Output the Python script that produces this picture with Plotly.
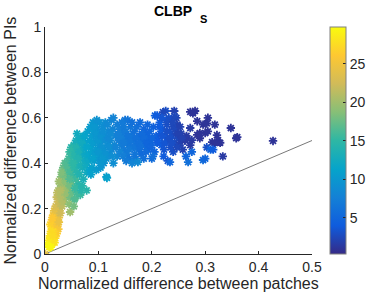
import plotly.graph_objects as go

# (x, y, colour value), grouped by region of the cloud
pts_yellow = [
    (0.0, 0.0, 24), (0.008, 0.03, 29), (0.010, 0.05, 29), (0.007, 0.06, 28.5), (0.012, 0.04, 29),
    (0.009, 0.08, 28), (0.013, 0.07, 28), (0.011, 0.10, 27.5), (0.015, 0.09, 27), (0.014, 0.12, 27),
    (0.017, 0.11, 26.5), (0.010, 0.13, 27), (0.016, 0.14, 26), (0.019, 0.13, 26), (0.018, 0.16, 25),
    (0.021, 0.15, 25), (0.015, 0.17, 25.5), (0.020, 0.18, 24.5), (0.023, 0.17, 24), (0.012, 0.06, 28.5),
    (0.016, 0.06, 28), (0.018, 0.08, 27), (0.020, 0.10, 26.5), (0.022, 0.12, 25.5), (0.024, 0.14, 25),
    (0.025, 0.11, 25.5), (0.013, 0.15, 26), (0.011, 0.08, 28), (0.008, 0.045, 29.5), (0.014, 0.05, 28.5),
    (0.019, 0.07, 27.5), (0.022, 0.09, 26.5), (0.026, 0.16, 24.5), (0.017, 0.19, 24.5), (0.024, 0.20, 23.5),
    (0.027, 0.19, 23.5), (0.009, 0.035, 29.5), (0.012, 0.09, 28), (0.016, 0.10, 27), (0.020, 0.14, 25.5),
    (0.006, 0.04, 29.5), (0.010, 0.07, 28.5), (0.013, 0.11, 27.5), (0.017, 0.13, 26.5), (0.021, 0.17, 24.5),
    (0.019, 0.20, 24), (0.025, 0.18, 24), (0.028, 0.21, 23), (0.015, 0.08, 27.5), (0.023, 0.13, 25.5),
    (0.018, 0.05, 28), (0.011, 0.03, 29.5), (0.026, 0.14, 24.5), (0.014, 0.16, 26),
]
pts_green = [
    (0.020, 0.21, 23), (0.024, 0.23, 22.5), (0.028, 0.22, 22), (0.022, 0.25, 22), (0.027, 0.26, 21),
    (0.031, 0.24, 21), (0.025, 0.28, 20.5), (0.030, 0.29, 20), (0.034, 0.27, 20), (0.028, 0.31, 19.5),
    (0.033, 0.32, 19), (0.037, 0.30, 19), (0.030, 0.34, 18.5), (0.036, 0.35, 18), (0.040, 0.33, 18),
    (0.038, 0.37, 17.5), (0.042, 0.36, 17), (0.032, 0.21, 21.5), (0.035, 0.23, 21), (0.040, 0.25, 20),
    (0.029, 0.18, 22.5), (0.044, 0.28, 18.5), (0.047, 0.25, 18), (0.050, 0.31, 17), (0.041, 0.30, 18.5),
    (0.023, 0.27, 21.5), (0.026, 0.32, 20), (0.034, 0.38, 17.5), (0.055, 0.24, 17), (0.045, 0.22, 19),
    (0.047, 0.185, 20), (0.066, 0.26, 15.5), (0.078, 0.28, 14.5), (0.056, 0.245, 16.5),
    (0.030, 0.26, 21), (0.033, 0.29, 20), (0.036, 0.27, 20), (0.039, 0.32, 19), (0.043, 0.34, 18),
    (0.046, 0.30, 18), (0.041, 0.27, 19.5), (0.048, 0.35, 17.5), (0.052, 0.37, 16.5), (0.037, 0.40, 17),
    (0.044, 0.39, 17), (0.031, 0.36, 18.5), (0.029, 0.28, 21), (0.051, 0.27, 17.5), (0.058, 0.33, 16),
    (0.060, 0.27, 16), (0.062, 0.31, 15.5), (0.054, 0.21, 18), (0.070, 0.30, 14.5),
]
pts_teal = [
    (0.040, 0.40, 16.5), (0.044, 0.42, 16), (0.048, 0.44, 15.5), (0.043, 0.38, 16.5), (0.050, 0.40, 15.5),
    (0.053, 0.43, 15), (0.047, 0.36, 16), (0.055, 0.38, 15), (0.058, 0.41, 14.5), (0.052, 0.34, 15.5),
    (0.060, 0.36, 14.5), (0.063, 0.39, 14), (0.057, 0.46, 14), (0.061, 0.44, 14), (0.066, 0.42, 13.5),
    (0.054, 0.48, 14), (0.062, 0.48, 13), (0.068, 0.46, 13), (0.071, 0.44, 12.5), (0.065, 0.35, 14),
    (0.070, 0.38, 13), (0.074, 0.41, 12.5), (0.049, 0.47, 14.5), (0.058, 0.50, 13), (0.066, 0.51, 12.5),
    (0.075, 0.49, 12), (0.072, 0.33, 13.5), (0.078, 0.36, 12.5), (0.080, 0.43, 12), (0.046, 0.33, 16.5),
    (0.064, 0.30, 14.5), (0.056, 0.29, 15.5), (0.068, 0.28, 14.5),
    (0.046, 0.45, 15.5), (0.051, 0.46, 15), (0.056, 0.44, 14.5), (0.059, 0.47, 14), (0.064, 0.45, 13.5),
    (0.069, 0.49, 12.5), (0.073, 0.47, 12.5), (0.076, 0.44, 12), (0.067, 0.39, 13.5), (0.062, 0.42, 14),
    (0.053, 0.40, 15), (0.072, 0.52, 12), (0.060, 0.53, 12.5), (0.077, 0.39, 12.5), (0.082, 0.41, 12),
    (0.084, 0.37, 11.5),
]
pts_cyan = [
    (0.075, 0.52, 11.5), (0.080, 0.54, 11), (0.085, 0.56, 10.5), (0.090, 0.58, 10), (0.095, 0.57, 10),
    (0.083, 0.50, 11), (0.088, 0.52, 10.5), (0.093, 0.54, 10), (0.098, 0.55, 9.5), (0.102, 0.58, 9.5),
    (0.086, 0.47, 11), (0.091, 0.49, 10.5), (0.097, 0.51, 10), (0.103, 0.53, 9.5), (0.108, 0.56, 9),
    (0.113, 0.58, 9), (0.082, 0.44, 11.5), (0.089, 0.45, 11), (0.095, 0.46, 10.5), (0.101, 0.48, 10),
    (0.107, 0.50, 9.5), (0.112, 0.52, 9), (0.118, 0.54, 8.5), (0.092, 0.41, 10.5), (0.099, 0.42, 10),
    (0.105, 0.44, 10), (0.111, 0.46, 9.5), (0.117, 0.48, 9), (0.122, 0.50, 8.5), (0.088, 0.38, 11),
    (0.096, 0.37, 10.5), (0.086, 0.35, 11), (0.115, 0.42, 9.5), (0.120, 0.44, 9), (0.125, 0.46, 8.5),
    (0.130, 0.48, 8.5), (0.127, 0.55, 8), (0.124, 0.59, 8), (0.132, 0.52, 8), (0.115, 0.34, 10.5),
    (0.104, 0.38, 10), (0.128, 0.40, 9), (0.135, 0.43, 8.5), (0.078, 0.47, 11.5), (0.110, 0.40, 9.5),
    (0.116, 0.335, 11),
    (0.087, 0.55, 10.5), (0.092, 0.56, 10), (0.096, 0.53, 10), (0.100, 0.50, 10), (0.105, 0.52, 9.5),
    (0.109, 0.54, 9), (0.114, 0.50, 9), (0.119, 0.51, 8.5), (0.123, 0.53, 8.5), (0.106, 0.47, 9.5),
    (0.113, 0.44, 9.5), (0.121, 0.47, 9), (0.094, 0.44, 10.5), (0.100, 0.45, 10), (0.108, 0.42, 10),
    (0.126, 0.43, 9), (0.117, 0.57, 8.5), (0.097, 0.59, 9.5), (0.089, 0.42, 11), (0.103, 0.40, 10),
]
pts_blue = [
    (0.135, 0.57, 7.5), (0.140, 0.55, 7.5), (0.145, 0.53, 7), (0.150, 0.51, 7), (0.155, 0.49, 7),
    (0.160, 0.47, 6.5), (0.138, 0.50, 7.5), (0.143, 0.48, 7.5), (0.148, 0.46, 7), (0.153, 0.44, 7),
    (0.158, 0.42, 6.5), (0.140, 0.45, 8), (0.146, 0.43, 7.5), (0.152, 0.41, 7), (0.162, 0.52, 6.5),
    (0.167, 0.54, 6), (0.172, 0.56, 6), (0.165, 0.50, 6.5), (0.170, 0.48, 6), (0.175, 0.46, 6),
    (0.180, 0.44, 5.5), (0.177, 0.52, 5.5), (0.182, 0.50, 5.5), (0.187, 0.48, 5.5), (0.185, 0.55, 5),
    (0.190, 0.53, 5), (0.195, 0.51, 5), (0.193, 0.46, 5), (0.198, 0.49, 5), (0.155, 0.59, 6.5),
    (0.128, 0.60, 8), (0.170, 0.42, 6.5), (0.165, 0.41, 7), (0.185, 0.42, 6), (0.200, 0.42, 5.5),
    (0.205, 0.45, 5), (0.208, 0.52, 4.5), (0.203, 0.56, 4.5), (0.210, 0.49, 4.5), (0.178, 0.58, 5.5),
    (0.160, 0.56, 6.5), (0.148, 0.56, 7), (0.133, 0.47, 8), (0.163, 0.40, 8), (0.174, 0.405, 8.5),
    (0.202, 0.43, 6), (0.150, 0.59, 6.5), (0.206, 0.61, 4.5),
    (0.137, 0.53, 7.5), (0.142, 0.51, 7.5), (0.147, 0.49, 7), (0.151, 0.54, 7), (0.156, 0.52, 6.5),
    (0.161, 0.50, 6.5), (0.166, 0.47, 6.5), (0.171, 0.51, 6), (0.176, 0.49, 6), (0.181, 0.53, 5.5),
    (0.186, 0.51, 5.5), (0.191, 0.49, 5), (0.196, 0.54, 5), (0.201, 0.51, 5), (0.157, 0.46, 7),
    (0.168, 0.44, 6.5), (0.179, 0.47, 6), (0.189, 0.45, 5.5), (0.144, 0.58, 7), (0.163, 0.58, 6),
    (0.192, 0.57, 5), (0.199, 0.47, 5),
]
pts_indigo = [
    (0.210, 0.61, 4), (0.215, 0.58, 4), (0.220, 0.55, 3.5), (0.225, 0.52, 3.5), (0.230, 0.50, 3),
    (0.218, 0.48, 4), (0.223, 0.46, 3.5), (0.228, 0.57, 3), (0.233, 0.54, 3), (0.238, 0.52, 3),
    (0.243, 0.49, 2.5), (0.236, 0.59, 2.5), (0.240, 0.56, 2.5), (0.245, 0.53, 2.5), (0.250, 0.51, 2.5),
    (0.226, 0.63, 3), (0.232, 0.60, 3), (0.248, 0.57, 2), (0.252, 0.48, 2), (0.255, 0.53, 2),
    (0.212, 0.50, 4), (0.216, 0.53, 4), (0.222, 0.43, 4), (0.230, 0.41, 3.5), (0.240, 0.45, 3),
    (0.258, 0.46, 2), (0.262, 0.50, 2), (0.265, 0.52, 1.5), (0.235, 0.47, 3), (0.246, 0.60, 2),
    (0.242, 0.63, 2), (0.221, 0.625, 2.5), (0.243, 0.605, 2.5), (0.234, 0.405, 5),
    (0.268, 0.405, 6), (0.264, 0.43, 5), (0.275, 0.45, 5),
    (0.214, 0.56, 4), (0.219, 0.52, 3.5), (0.224, 0.49, 3.5), (0.229, 0.54, 3), (0.234, 0.51, 3),
    (0.239, 0.58, 2.5), (0.244, 0.55, 2.5), (0.249, 0.53, 2), (0.227, 0.59, 3), (0.219, 0.60, 3.5),
    (0.253, 0.56, 2), (0.257, 0.50, 2), (0.247, 0.47, 2.5), (0.237, 0.49, 3),
]
pts_purple = [
    (0.272, 0.626, 1), (0.281, 0.63, 1), (0.277, 0.62, 1), (0.305, 0.60, 1), (0.285, 0.585, 1),
    (0.318, 0.57, 1), (0.348, 0.555, 1), (0.296, 0.57, 1), (0.303, 0.575, 1), (0.290, 0.533, 1),
    (0.300, 0.533, 1), (0.305, 0.54, 1), (0.322, 0.524, 1), (0.324, 0.502, 1), (0.328, 0.49, 1),
    (0.360, 0.515, 1), (0.358, 0.51, 1), (0.427, 0.498, 1), (0.272, 0.555, 1.5), (0.266, 0.51, 1.5),
    (0.275, 0.502, 1.5), (0.262, 0.50, 1.5), (0.256, 0.51, 2), (0.285, 0.525, 1), (0.290, 0.51, 1),
    (0.272, 0.48, 1.5), (0.313, 0.493, 1), (0.318, 0.49, 1), (0.303, 0.47, 3), (0.310, 0.46, 5),
    (0.296, 0.414, 5.5), (0.300, 0.42, 5), (0.333, 0.43, 1.5), (0.315, 0.46, 4),
]

groups = [pts_yellow, pts_green, pts_teal, pts_cyan, pts_blue, pts_indigo, pts_purple]
x_vals = [p[0] for g in groups for p in g]
y_vals = [p[1] for g in groups for p in g]
c_vals = [p[2] for g in groups for p in g]

diag_x = [0, 0.5]
diag_y = [0, 0.5]

x_ticks = [0, 0.1, 0.2, 0.3, 0.4, 0.5]
x_tick_text = ["0", "0.1", "0.2", "0.3", "0.4", "0.5"]
y_ticks = [0, 0.2, 0.4, 0.6, 0.8, 1]
y_tick_text = ["0", "0.2", "0.4", "0.6", "0.8", "1"]
cbar_ticks = [5, 10, 15, 20, 25]

parula = [
    [0.0, "#352a87"], [0.125, "#0f5cdd"], [0.25, "#1481d6"], [0.375, "#06a4ca"],
    [0.5, "#2eb7a4"], [0.625, "#87bf77"], [0.75, "#d1bb59"], [0.875, "#fec832"], [1.0, "#f9fb0e"],
]

FONT = "Liberation Sans, Arial, sans-serif"
AX = "#262626"
L, R, T, B = 45, 78, 27, 39
W, H = 390, 293
PW, PH = W - L - R, H - T - B

fig = go.Figure()
fig.add_trace(go.Scatter(
    x=diag_x, y=diag_y, mode="lines",
    line=dict(color="#555555", width=0.8),
    hoverinfo="skip", showlegend=False,
))
fig.add_trace(go.Scatter(
    x=x_vals, y=y_vals, mode="markers",
    marker=dict(
        symbol="asterisk-open", size=7, color=c_vals,
        colorscale=parula, cmin=0.3, cmax=29.8,
        line=dict(width=1.8),
        colorbar=dict(
            x=(330 - L) / PW, xanchor="left", xref="paper", y=0.5, yanchor="middle",
            len=1, lenmode="fraction", thickness=16, xpad=0, ypad=0,
            tickvals=cbar_ticks, ticks="inside", ticklen=3, tickcolor=AX,
            outlinecolor="#808080", outlinewidth=1,
            tickfont=dict(family=FONT, size=14, color=AX),
        ),
    ),
    showlegend=False,
))

fig.update_layout(
    width=W, height=H,
    margin=dict(l=L, r=R, t=T, b=B, autoexpand=False),
    paper_bgcolor="white", plot_bgcolor="white",
    xaxis=dict(
        range=[0, 0.5], tickvals=x_ticks, ticktext=x_tick_text, automargin=False,
        showgrid=False, zeroline=False, showline=True, linecolor=AX, linewidth=1,
        ticks="inside", ticklen=3, tickcolor=AX,
        tickfont=dict(family=FONT, size=14, color=AX),
    ),
    yaxis=dict(
        range=[0, 1], tickvals=y_ticks, ticktext=y_tick_text, automargin=False,
        showgrid=False, zeroline=False, showline=True, linecolor=AX, linewidth=1,
        ticks="inside", ticklen=3, tickcolor=AX,
        tickfont=dict(family=FONT, size=14, color=AX),
    ),
    annotations=[
        dict(text="<b>CLBP</b>", xref="paper", yref="paper",
             x=(152 - L) / PW, y=1 + (T - 11) / PH, xanchor="left", yanchor="middle",
             showarrow=False, font=dict(family=FONT, size=14, color="black")),
        dict(text="<b>S</b>", xref="paper", yref="paper",
             x=(198 - L) / PW, y=1 + (T - 19) / PH, xanchor="left", yanchor="middle",
             showarrow=False, font=dict(family=FONT, size=11, color="black")),
        dict(text="Normalized difference between patches", xref="paper", yref="paper",
             x=0.5, y=-(283 - (H - B)) / PH, xanchor="center", yanchor="middle", showarrow=False,
             font=dict(family=FONT, size=16, color=AX)),
        dict(text="Normalized difference between PIs", xref="paper", yref="paper",
             x=-(L - 10) / PW, y=0.5, xanchor="center", yanchor="middle", showarrow=False,
             textangle=-90, font=dict(family=FONT, size=16, color=AX)),
    ],
)

fig.write_html("out.html", config={"displayModeBar": False},
               post_script="document.body.style.margin='0';")
